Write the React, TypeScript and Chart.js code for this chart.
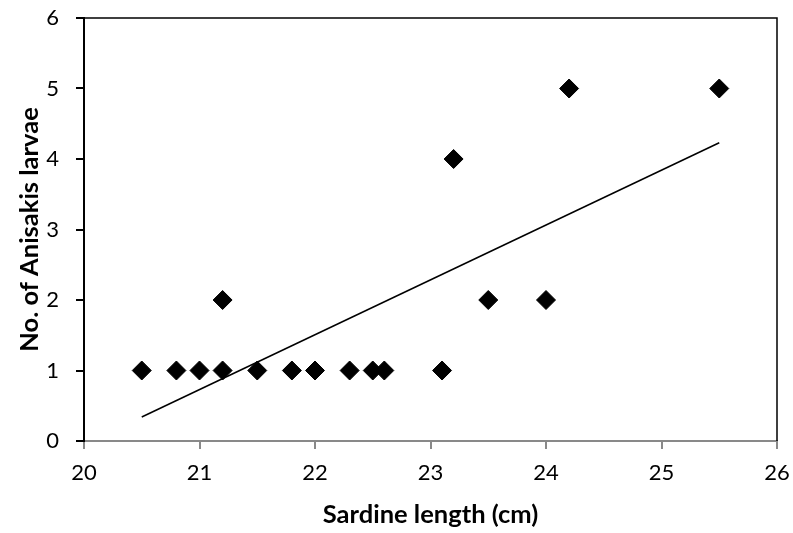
import React, { useEffect, useRef } from "react";
import { Chart, registerables } from "chart.js";

Chart.register(...registerables);

const lengthsCm = [20.5, 20.8, 21, 21.2, 21.2, 21.5, 21.8, 22, 22.3, 22.5, 22.6, 23.1, 23.2, 23.5, 24, 24.2, 25.5];
const larvaeCounts = [1, 1, 1, 2, 1, 1, 1, 1, 1, 1, 1, 1, 4, 2, 2, 5, 5];
const trendX = [20.5, 25.5];
const trendY = [0.34, 4.23];
const xTitle = "Sardine length (cm)";
const yTitle = "No. of Anisakis larvae";

const FONT = "Lato, 'Open Sans', sans-serif";

const frame = {
  id: "frame",
  afterDatasetsDraw(chart: any) {
    const { ctx, chartArea: a } = chart;
    ctx.save();
    ctx.strokeStyle = "#000";
    ctx.lineWidth = 1.5;
    ctx.beginPath();
    ctx.moveTo(a.left, a.top);
    ctx.lineTo(a.right, a.top);
    ctx.lineTo(a.right, a.bottom);
    ctx.stroke();
    ctx.restore();
  },
};

export default function App() {
  const ref = useRef<HTMLCanvasElement | null>(null);
  useEffect(() => {
    if (!ref.current) return;
    const chart = new Chart(ref.current, {
      type: "scatter",
      data: {
        datasets: [
          {
            type: "line",
            data: trendX.map((x, i) => ({ x, y: trendY[i] })),
            borderColor: "#000",
            borderWidth: 1.5,
            pointRadius: 0,
            fill: false,
            order: 2,
          } as any,
          {
            data: lengthsCm.map((x, i) => ({ x, y: larvaeCounts[i] })),
            pointStyle: "rectRot",
            pointRadius: 9.5,
            pointBackgroundColor: "#000",
            pointBorderColor: "#000",
            pointBorderWidth: 1,
            order: 1,
          },
        ],
      },
      options: {
        animation: false,
        responsive: false,
        devicePixelRatio: 1,
        layout: { padding: 0 },
        plugins: { legend: { display: false }, tooltip: { enabled: false } },
        scales: {
          x: {
            type: "linear",
            min: 20,
            max: 26,
            ticks: { stepSize: 1, color: "#000", padding: 11, font: { family: FONT, size: 22 } },
            grid: { drawOnChartArea: false, drawTicks: true, tickLength: 8, color: "#898989", lineWidth: 2 },
            border: { display: true, color: "#898989", width: 2 },
            title: {
              display: true,
              text: xTitle,
              color: "#000",
              font: { family: FONT, size: 25.5, weight: "bold" },
              padding: { top: 0, bottom: 3 },
            },
            afterFit: (s: any) => {
              s.height = 92;
              s.paddingLeft = 0;
              s.paddingRight = 16;
            },
          },
          y: {
            type: "linear",
            min: 0,
            max: 6,
            ticks: { stepSize: 1, color: "#000", padding: 17, font: { family: FONT, size: 22 } },
            grid: { drawOnChartArea: false, drawTicks: true, tickLength: 8, color: "#000", lineWidth: 2 },
            border: { display: true, color: "#000", width: 2 },
            title: {
              display: true,
              text: yTitle,
              color: "#000",
              font: { family: FONT, size: 25.5, weight: "bold" },
              padding: { top: 14, bottom: 0 },
            },
            afterFit: (s: any) => {
              s.width = 84;
              s.paddingTop = 18;
              s.paddingBottom = 0;
            },
          },
        },
      },
      plugins: [frame],
    });
    return () => chart.destroy();
  }, []);
  return (
    <div style={{ position: "fixed", left: 0, top: 0, width: 793, height: 533, background: "#fff" }}>
      <canvas ref={ref} width={793} height={533} style={{ display: "block" }} />
    </div>
  );
}
